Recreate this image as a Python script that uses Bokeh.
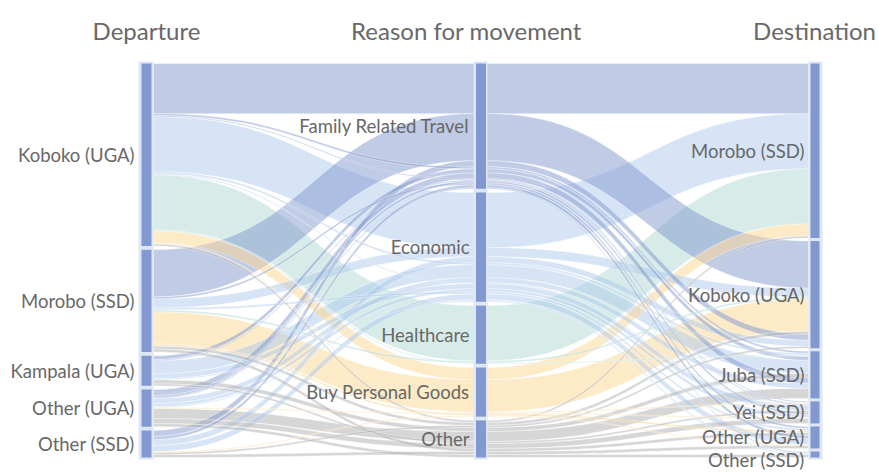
import numpy as np
from bokeh.plotting import figure
from bokeh.models import Range1d, ColumnDataSource
from bokeh.embed import file_html
from bokeh.resources import INLINE
from bokeh.core.properties import value

# ---------------- data ----------------
dimension_titles = ["Departure", "Reason for movement", "Destination"]
departures = ["Koboko (UGA)", "Morobo (SSD)", "Kampala (UGA)", "Other (UGA)", "Other (SSD)"]
reasons = ["Family Related Travel", "Economic", "Healthcare", "Buy Personal Goods", "Other"]
destinations = ["Morobo (SSD)", "Koboko (UGA)", "Juba (SSD)", "Yei (SSD)", "Other (UGA)", "Other (SSD)"]

# one entry per (departure, reason, destination) path
path_departure = [
    "Koboko (UGA)", "Koboko (UGA)", "Koboko (UGA)", "Koboko (UGA)", "Koboko (UGA)", "Koboko (UGA)",
    "Koboko (UGA)", "Koboko (UGA)", "Koboko (UGA)", "Koboko (UGA)", "Koboko (UGA)",
    "Morobo (SSD)", "Morobo (SSD)", "Morobo (SSD)", "Morobo (SSD)", "Morobo (SSD)", "Morobo (SSD)",
    "Morobo (SSD)", "Morobo (SSD)", "Morobo (SSD)",
    "Kampala (UGA)", "Kampala (UGA)", "Kampala (UGA)", "Kampala (UGA)", "Kampala (UGA)",
    "Kampala (UGA)", "Kampala (UGA)",
    "Other (UGA)", "Other (UGA)", "Other (UGA)", "Other (UGA)", "Other (UGA)", "Other (UGA)",
    "Other (UGA)", "Other (UGA)", "Other (UGA)", "Other (UGA)",
    "Other (SSD)", "Other (SSD)", "Other (SSD)", "Other (SSD)", "Other (SSD)", "Other (SSD)",
    "Other (SSD)",
]
path_reason = [
    "Family Related Travel", "Family Related Travel", "Family Related Travel", "Economic", "Economic",
    "Economic", "Healthcare", "Healthcare", "Buy Personal Goods", "Buy Personal Goods", "Other",
    "Family Related Travel", "Family Related Travel", "Economic", "Economic", "Healthcare",
    "Buy Personal Goods", "Buy Personal Goods", "Other", "Other",
    "Family Related Travel", "Family Related Travel", "Economic", "Economic", "Economic", "Other", "Other",
    "Family Related Travel", "Family Related Travel", "Family Related Travel", "Economic", "Economic",
    "Economic", "Buy Personal Goods", "Other", "Other", "Other",
    "Family Related Travel", "Family Related Travel", "Economic", "Economic", "Buy Personal Goods",
    "Other", "Other",
]
path_destination = [
    "Morobo (SSD)", "Juba (SSD)", "Yei (SSD)", "Morobo (SSD)", "Juba (SSD)", "Yei (SSD)",
    "Morobo (SSD)", "Juba (SSD)", "Morobo (SSD)", "Yei (SSD)", "Morobo (SSD)",
    "Koboko (UGA)", "Other (UGA)", "Koboko (UGA)", "Other (UGA)", "Koboko (UGA)",
    "Koboko (UGA)", "Other (UGA)", "Koboko (UGA)", "Other (UGA)",
    "Juba (SSD)", "Yei (SSD)", "Juba (SSD)", "Yei (SSD)", "Other (SSD)", "Juba (SSD)", "Yei (SSD)",
    "Juba (SSD)", "Yei (SSD)", "Other (SSD)", "Juba (SSD)", "Yei (SSD)", "Other (SSD)", "Yei (SSD)",
    "Juba (SSD)", "Yei (SSD)", "Other (SSD)",
    "Koboko (UGA)", "Other (UGA)", "Koboko (UGA)", "Other (UGA)", "Other (UGA)", "Koboko (UGA)",
    "Other (UGA)",
]
path_count = [
    50, 2, 1, 55, 2, 1, 55, 1, 12, 1, 2,
    47, 2, 9, 2, 2, 32, 2, 3, 3,
    4, 1, 13, 5, 1, 4, 2,
    6, 2, 1, 5, 3, 1, 1, 10, 5, 3,
    6, 3, 6, 6, 1, 2, 3,
]

reason_colors = ["#8197cd", "#adc9eb", "#afd9d3", "#fbd58d", "#adadad"]

# ---------------- layout (screen pixel space, y downwards) ----------------
W, H = 878, 472
TOP, BOTTOM = 63.0, 457.0
MIN_GAP = 3.0
col_outer = [(138.0, 153.0), (473.0, 487.0), (808.0, 822.0)]
col_inner = [(141.0, 151.0), (475.5, 485.5), (810.0, 819.0)]
title_x = [146.0, 466.0, 814.0]
TITLE_Y = 30.0
LABEL_PAD = 4.0
LABEL_MIN_SPACING = 23.0

cats = [departures, reasons, destinations]
path_cols = [path_departure, path_reason, path_destination]
idx = [[cats[d].index(v) for v in path_cols[d]] for d in range(3)]
total = float(sum(path_count))
n_max = max(len(c) for c in cats)
k = (BOTTOM - TOP - (n_max - 1) * MIN_GAP) / total

node_top = []
for d in range(3):
    sizes = [sum(c for c, i in zip(path_count, idx[d]) if i == j) * k for j in range(len(cats[d]))]
    gap = (BOTTOM - TOP - sum(sizes)) / (len(cats[d]) - 1)
    tops, y = [], TOP
    for s in sizes:
        tops.append((y, y + s))
        y += s + gap
    node_top.append(tops)

# stacking order inside each category
order_keys = [
    lambda q: (idx[1][q], idx[2][q]),
    lambda q: (idx[2][q], idx[0][q]),
    lambda q: (idx[0][q], idx[1][q]),
]
path_y = [[0.0] * len(path_count) for _ in range(3)]
for d in range(3):
    for j in range(len(cats[d])):
        members = sorted([q for q in range(len(path_count)) if idx[d][q] == j], key=order_keys[d])
        y = node_top[d][j][0]
        for q in members:
            path_y[d][q] = y
            y += path_count[q] * k

t = np.linspace(0, 1, 40)


def bez(x0, x1, y0, y1):
    xm = (x0 + x1) / 2
    bx = (1 - t) ** 3 * x0 + 3 * (1 - t) ** 2 * t * xm + 3 * (1 - t) * t ** 2 * xm + t ** 3 * x1
    by = (1 - t) ** 3 * y0 + 3 * (1 - t) ** 2 * t * y0 + 3 * (1 - t) * t ** 2 * y1 + t ** 3 * y1
    return list(bx), list(by)


xs, ys, cols = [], [], []
for q in sorted(range(len(path_count)), key=lambda r: -path_count[r]):
    h = path_count[q] * k
    top_x, top_y = [], []
    for d in range(2):
        bx, by = bez(col_outer[d][1], col_outer[d + 1][0], path_y[d][q], path_y[d + 1][q])
        top_x += bx
        top_y += by
    bot_x = top_x[::-1]
    bot_y = [v + h for v in top_y[::-1]]
    xs.append(top_x + bot_x)
    ys.append(top_y + bot_y)
    cols.append(reason_colors[idx[1][q]])

p = figure(width=W, height=H, x_range=Range1d(0, W), y_range=Range1d(H, 0),
           output_backend="svg", toolbar_location=None, min_border=0)
p.axis.visible = False
p.grid.visible = False
p.outline_line_color = None
p.background_fill_color = "white"

p.patches(xs="xs", ys="ys", fill_color="c", source=ColumnDataSource(dict(xs=xs, ys=ys, c=cols)),
          fill_alpha=0.5, line_color="white", line_alpha=0.5, line_width=0.7)

# bars
for d in range(3):
    p.quad(left=[col_outer[d][0]], right=[col_outer[d][1]], top=[TOP - 2], bottom=[BOTTOM + 2],
           fill_color="#dfe6f4", line_color=None)
    p.quad(left=[col_inner[d][0]] * len(cats[d]), right=[col_inner[d][1]] * len(cats[d]),
           top=[a for a, b in node_top[d]], bottom=[b for a, b in node_top[d]],
           fill_color="#8199d0", line_color=None)

# category labels
lx, ly, lt = [], [], []
for d in range(3):
    prev = -1e9
    for j, name in enumerate(cats[d]):
        c = (node_top[d][j][0] + node_top[d][j][1]) / 2
        c = max(c, prev + LABEL_MIN_SPACING)
        prev = c
        lx.append(col_outer[d][0] - LABEL_PAD)
        ly.append(c)
        lt.append(name)
p.text(x="x", y="y", text="t", source=ColumnDataSource(dict(x=lx, y=ly, t=lt)),
       text_font=value("Lato"), text_font_size="18.5px", text_color="#686868",
       text_align="right", text_baseline="middle")

p.text(x=title_x, y=[TITLE_Y] * 3, text=dimension_titles,
       text_font=value("Lato"), text_font_size="24px", text_color="#686868",
       text_align="center", text_baseline="alphabetic")

open("out.html", "w").write(file_html(p, INLINE))
